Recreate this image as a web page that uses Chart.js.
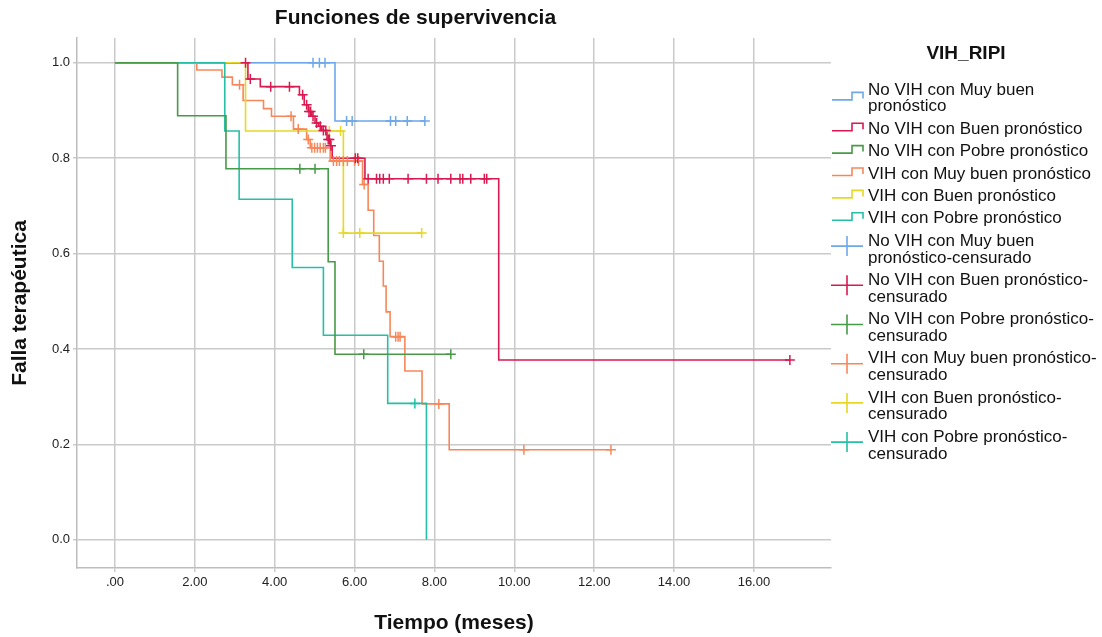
<!DOCTYPE html>
<html>
<head>
<meta charset="utf-8">
<script src="https://cdn.jsdelivr.net/npm/chart.js@4.4.1/dist/chart.umd.min.js"></script>
<style>
  html, body { margin: 0; padding: 0; background: #fff; }
  #wrap { width: 1102px; height: 637px; }
</style>
</head>
<body>
<div id="wrap"><canvas id="km" width="1102" height="637"></canvas></div>
<script>
// Kaplan-Meier: time of each drop (months) and survival right after it
const noVihMuyBuenT = [0, 5.51, 7.76];
const noVihMuyBuenS = [1, 0.878, 0.878];
const noVihMuyBuenCens = [4.96, 5.12, 5.26, 5.80, 5.94, 6.90, 7.03, 7.32, 7.76];

const noVihBuenT = [0, 3.33, 3.64, 4.62, 4.74, 4.84, 4.93, 5.01, 5.10, 5.18, 5.31, 5.39, 5.44, 6.26, 9.61, 16.90];
const noVihBuenS = [1, 0.966, 0.950, 0.933, 0.912, 0.898, 0.888, 0.874, 0.867, 0.858, 0.839, 0.826, 0.800, 0.757, 0.377, 0.377];
const noVihBuenCens = [3.27, 3.39, 3.90, 4.37, 4.70, 4.80, 4.86, 4.90, 4.96, 5.05, 5.14, 5.22, 5.28, 5.34, 5.37, 5.41,
  6.02, 6.08, 6.34, 6.55, 6.63, 6.72, 6.87, 7.34, 7.80, 8.09, 8.41, 8.64, 8.71, 8.91, 9.25, 9.31, 16.90];

const noVihPobreT = [0, 1.57, 2.78, 5.34, 5.51, 8.41];
const noVihPobreS = [1, 0.889, 0.778, 0.583, 0.389, 0.389];
const noVihPobreCens = [4.63, 5.01, 6.23, 8.41];

const vihMuyBuenT = [0, 2.05, 2.68, 2.94, 3.21, 3.72, 3.92, 4.47, 4.80, 4.89, 5.39, 6.20, 6.34, 6.48, 6.62, 6.72, 6.79, 6.89, 7.26, 7.69, 8.37, 12.42];
const vihMuyBuenS = [1, 0.985, 0.970, 0.954, 0.921, 0.904, 0.888, 0.861, 0.839, 0.822, 0.794, 0.745, 0.691, 0.638, 0.584, 0.532, 0.478, 0.426, 0.354, 0.285, 0.189, 0.189];
const vihMuyBuenCens = [3.12, 4.41, 4.59, 4.84, 4.93, 5.00, 5.07, 5.14, 5.22, 5.27, 5.47, 5.55, 5.62, 5.72, 5.82,
  6.00, 6.10, 6.24, 7.03, 7.09, 7.14, 8.11, 10.24, 12.42];

const vihBuenT = [0, 3.27, 5.72, 7.68];
const vihBuenS = [1, 0.857, 0.643, 0.643];
const vihBuenCens = [5.37, 5.65, 5.72, 6.13, 7.68];

const vihPobreT = [0, 2.75, 3.11, 4.44, 5.22, 6.83, 7.80];
const vihPobreS = [1, 0.857, 0.714, 0.571, 0.429, 0.286, 0];
const vihPobreCens = [7.51];

const seriesNames = [
  'No VIH con Muy buen pronóstico',
  'No VIH con Buen pronóstico',
  'No VIH con Pobre pronóstico',
  'VIH con Muy buen pronóstico',
  'VIH con Buen pronóstico',
  'VIH con Pobre pronóstico'
];
const legendLabels = [
  ['No VIH con Muy buen', 'pronóstico'],
  ['No VIH con Buen pronóstico'],
  ['No VIH con Pobre pronóstico'],
  ['VIH con Muy buen pronóstico'],
  ['VIH con Buen pronóstico'],
  ['VIH con Pobre pronóstico'],
  ['No VIH con Muy buen', 'pronóstico-censurado'],
  ['No VIH con Buen pronóstico-', 'censurado'],
  ['No VIH con Pobre pronóstico-', 'censurado'],
  ['VIH con Muy buen pronóstico-', 'censurado'],
  ['VIH con Buen pronóstico-', 'censurado'],
  ['VIH con Pobre pronóstico-', 'censurado']
];

const xTickValues = [0, 2, 4, 6, 8, 10, 12, 14, 16];
const xTickLabels = ['.00', '2.00', '4.00', '6.00', '8.00', '10.00', '12.00', '14.00', '16.00'];
const yTickValues = [0, 0.2, 0.4, 0.6, 0.8, 1.0];
const yTickLabels = ['0.0', '0.2', '0.4', '0.6', '0.8', '1.0'];

const colors = ['#6ea8e8', '#d9194f', '#479a47', '#f7875a', '#e6d824', '#26bfa6'];
const FONT = '"Liberation Sans", Arial, sans-serif';

const curves = [
  [noVihMuyBuenT, noVihMuyBuenS, noVihMuyBuenCens],
  [noVihBuenT, noVihBuenS, noVihBuenCens],
  [noVihPobreT, noVihPobreS, noVihPobreCens],
  [vihMuyBuenT, vihMuyBuenS, vihMuyBuenCens],
  [vihBuenT, vihBuenS, vihBuenCens],
  [vihPobreT, vihPobreS, vihPobreCens]
];

// survival level of a curve at time t (where a censored mark sits)
function survAt(times, surv, t) {
  let s = surv[0];
  for (let i = 0; i < times.length; i++) {
    if (times[i] <= t + 1e-9) s = surv[i];
  }
  return s;
}

// which line is painted on top (lower = on top)
const lineOrder = [11, 10, 6, 9, 8, 7];

const datasets = [];
curves.forEach(([T, S, C], i) => {
  datasets.push({
    label: seriesNames[i],
    data: T.map((t, k) => ({ x: t, y: S[k] })),
    showLine: true,
    stepped: 'before',
    borderColor: colors[i],
    borderWidth: 1.6,
    pointRadius: 0,
    fill: false,
    order: lineOrder[i]
  });
  datasets.push({
    label: seriesNames[i] + '-censurado',
    data: C.map(t => ({ x: t, y: survAt(T, S, t) })),
    showLine: false,
    pointStyle: 'cross',
    pointRadius: 5,
    pointBorderWidth: 1.5,
    pointBorderColor: colors[i],
    pointBackgroundColor: colors[i],
    order: i === 3 ? 1 : 0
  });
});

const legendPlugin = {
  id: 'kmLegend',
  afterDraw(chart) {
    const ctx = chart.ctx;
    const x0 = chart.chartArea.right + 1;
    ctx.save();
    ctx.fillStyle = '#111';
    ctx.font = 'bold 19px ' + FONT;
    ctx.textAlign = 'center';
    ctx.textBaseline = 'middle';
    ctx.fillText('VIH_RIPI', 966, 54);
    ctx.font = '17px ' + FONT;
    ctx.textAlign = 'left';
    let y = 90;
    legendLabels.forEach((lines, i) => {
      const c = y + (lines.length - 1) * 8.4;
      ctx.strokeStyle = colors[i % 6];
      ctx.lineWidth = 1.6;
      ctx.beginPath();
      if (i < 6) {
        ctx.moveTo(x0, c + 1.5);
        ctx.lineTo(x0 + 20, c + 1.5);
        ctx.lineTo(x0 + 20, c - 6);
        ctx.lineTo(x0 + 31, c - 6);
        ctx.lineTo(x0 + 31, c);
      } else {
        ctx.moveTo(x0 - 1, c - 3.5);
        ctx.lineTo(x0 + 31, c - 3.5);
        ctx.moveTo(x0 + 15, c - 13.5);
        ctx.lineTo(x0 + 15, c + 6.5);
      }
      ctx.stroke();
      lines.forEach((txt, k) => ctx.fillText(txt, 868, y + k * 16.8));
      y += (lines.length - 1) * 16.8 + 22.4;
    });
    ctx.restore();
  }
};

Chart.defaults.font.family = FONT;
Chart.defaults.color = '#222';

new Chart(document.getElementById('km'), {
  type: 'scatter',
  data: { datasets },
  options: {
    responsive: false,
    animation: false,
    events: [],
    layout: { padding: { left: 0, right: 271, top: 0, bottom: 0 } },
    plugins: {
      legend: { display: false },
      tooltip: { enabled: false },
      title: {
        display: true,
        text: 'Funciones de supervivencia',
        color: '#111',
        font: { size: 21, weight: 'bold' },
        padding: { top: 5.5, bottom: 7.3 }
      }
    },
    scales: {
      x: {
        type: 'linear',
        min: -0.95,
        max: 17.93,
        afterBuildTicks: axis => { axis.ticks = xTickValues.map(v => ({ value: v })); },
        afterFit: axis => { axis.height = 69; },
        ticks: {
          autoSkip: false,
          maxRotation: 0,
          padding: 3,
          font: { size: 13 },
          callback: (v, i) => xTickLabels[i]
        },
        grid: { color: '#cacaca', lineWidth: 1.5, tickLength: 4 },
        border: { color: '#bdbdbd', width: 1.5 },
        title: {
          display: true,
          text: 'Tiempo (meses)',
          color: '#111',
          font: { size: 21, weight: 'bold' },
          padding: { top: 0, bottom: 1.4 }
        }
      },
      y: {
        type: 'linear',
        min: -0.059,
        max: 1.052,
        afterBuildTicks: axis => { axis.ticks = yTickValues.map(v => ({ value: v })); },
        afterFit: axis => { axis.width = 77; },
        ticks: {
          padding: 3,
          font: { size: 13 },
          callback: (v, i) => yTickLabels[i]
        },
        grid: { color: '#cacaca', lineWidth: 1.5, tickLength: 4 },
        border: { color: '#bdbdbd', width: 1.5 },
        title: {
          display: true,
          text: 'Falla terapéutica',
          color: '#111',
          font: { size: 21, weight: 'bold' },
          padding: { top: 7.4, bottom: 0 }
        }
      }
    }
  },
  plugins: [legendPlugin]
});
</script>
</body>
</html>
